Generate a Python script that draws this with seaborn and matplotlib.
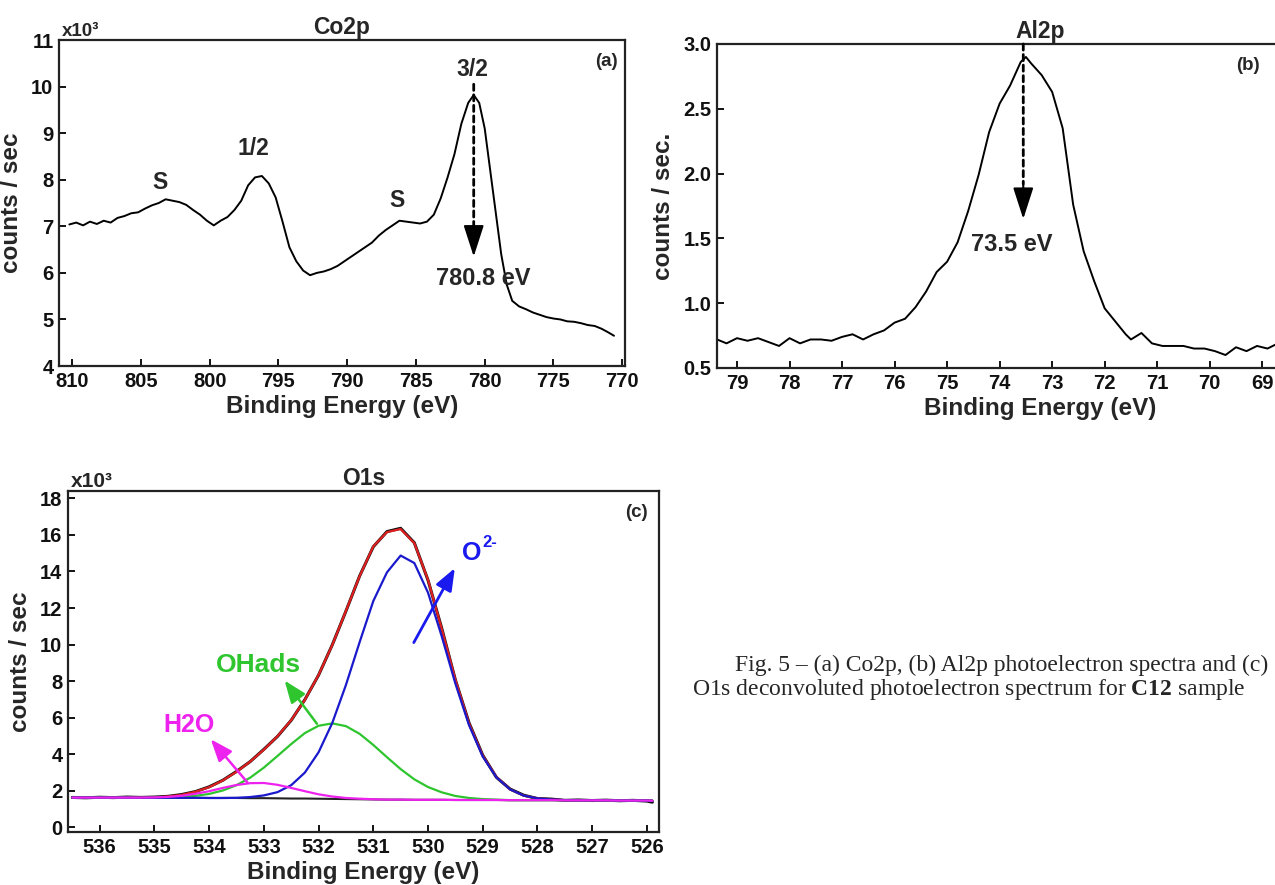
import numpy as np
import pandas as pd
import matplotlib
matplotlib.use("Agg")
import matplotlib.pyplot as plt
import seaborn as sns

# ---------------- data ----------------
co_energy = [810.2, 809.7, 809.2, 808.7, 808.2, 807.7, 807.2, 806.7, 806.2, 805.7,
             805.2, 804.7, 804.2, 803.7, 803.2, 802.7, 802.2, 801.7, 801.2, 800.7,
             800.2, 799.7, 799.2, 798.7, 798.2, 797.7, 797.2, 796.7, 796.2, 795.7,
             795.2, 794.7, 794.2, 793.7, 793.2, 792.7, 792.2, 791.7, 791.2, 790.7,
             790.2, 789.7, 789.2, 788.7, 788.2, 787.7, 787.2, 786.7, 786.2, 785.7,
             785.2, 784.7, 784.2, 783.7, 783.2, 782.7, 782.2, 781.7, 781.2, 780.8,
             780.4, 780.0, 779.6, 779.2, 778.8, 778.4, 778.0, 777.5, 777.0, 776.5,
             776.0, 775.5, 775.0, 774.5, 774.0, 773.5, 773.0, 772.5, 772.0, 771.5,
             771.0, 770.6]
co_counts = [7.04, 7.08, 7.02, 7.10, 7.05, 7.12, 7.08, 7.18, 7.22, 7.28,
             7.30, 7.38, 7.45, 7.50, 7.58, 7.55, 7.52, 7.46, 7.35, 7.25,
             7.12, 7.02, 7.12, 7.20, 7.35, 7.55, 7.88, 8.05, 8.08, 7.92,
             7.62, 7.10, 6.55, 6.25, 6.05, 5.95, 6.00, 6.03, 6.08, 6.15,
             6.25, 6.35, 6.45, 6.55, 6.65, 6.80, 6.92, 7.02, 7.12, 7.10,
             7.08, 7.06, 7.10, 7.25, 7.60, 8.05, 8.55, 9.20, 9.65, 9.82,
             9.65, 9.10, 8.20, 7.30, 6.40, 5.75, 5.40, 5.28, 5.22, 5.15,
             5.10, 5.05, 5.02, 5.00, 4.96, 4.95, 4.92, 4.88, 4.86, 4.80,
             4.72, 4.65]

al_energy = [79.38, 79.2, 79.0, 78.8, 78.6, 78.4, 78.2, 78.0, 77.8, 77.6,
             77.4, 77.2, 77.0, 76.8, 76.6, 76.4, 76.2, 76.0, 75.8, 75.6,
             75.4, 75.2, 75.0, 74.8, 74.6, 74.4, 74.2, 74.0, 73.8, 73.6,
             73.5, 73.4, 73.2, 73.0, 72.8, 72.6, 72.4, 72.2, 72.0, 71.8,
             71.6, 71.5, 71.3, 71.1, 70.9, 70.7, 70.5, 70.3, 70.1, 69.9,
             69.7, 69.5, 69.3, 69.1, 68.9, 68.7, 68.5]
al_counts = [0.72, 0.69, 0.73, 0.71, 0.73, 0.70, 0.67, 0.73, 0.69, 0.72,
             0.72, 0.71, 0.74, 0.76, 0.72, 0.76, 0.79, 0.85, 0.88, 0.97,
             1.09, 1.24, 1.32, 1.47, 1.71, 1.99, 2.32, 2.54, 2.68, 2.86,
             2.90, 2.85, 2.76, 2.63, 2.35, 1.76, 1.40, 1.17, 0.96, 0.86,
             0.76, 0.72, 0.77, 0.69, 0.67, 0.67, 0.67, 0.65, 0.65, 0.63,
             0.60, 0.66, 0.63, 0.67, 0.65, 0.69, 0.66]

o_energy = [536.5, 536.25, 536.0, 535.75, 535.5, 535.25, 535.0, 534.75, 534.5, 534.25,
            534.0, 533.75, 533.5, 533.25, 533.0, 532.75, 532.5, 532.25, 532.0, 531.75,
            531.5, 531.25, 531.0, 530.75, 530.5, 530.25, 530.0, 529.75, 529.5, 529.25,
            529.0, 528.75, 528.5, 528.25, 528.0, 527.75, 527.5, 527.25, 527.0, 526.75,
            526.5, 526.25, 526.0, 525.9]
o_raw = [1.64, 1.62, 1.65, 1.63, 1.66, 1.64, 1.66, 1.70, 1.80, 1.96,
         2.22, 2.58, 3.06, 3.60, 4.27, 4.98, 5.86, 6.99, 8.33, 9.98,
         11.83, 13.75, 15.35, 16.18, 16.36, 15.57, 13.52, 10.90, 8.07, 5.72,
         3.95, 2.74, 2.10, 1.76, 1.58, 1.55, 1.48, 1.50, 1.47, 1.49,
         1.46, 1.48, 1.44, 1.38]
o_fit = [1.63, 1.63, 1.63, 1.64, 1.64, 1.63, 1.64, 1.69, 1.78, 1.95,
         2.20, 2.57, 3.04, 3.60, 4.25, 4.99, 5.87, 6.98, 8.34, 9.97,
         11.84, 13.74, 15.37, 16.15, 16.32, 15.55, 13.54, 10.87, 8.09, 5.70,
         3.93, 2.76, 2.08, 1.74, 1.59, 1.53, 1.49, 1.48, 1.48, 1.48,
         1.47, 1.47, 1.47, 1.46]
o_oxide = [1.63, 1.63, 1.63, 1.63, 1.63, 1.62, 1.62, 1.62, 1.62, 1.62,
           1.61, 1.61, 1.62, 1.66, 1.75, 1.93, 2.31, 3.00, 4.11, 5.71,
           7.79, 10.13, 12.38, 13.95, 14.87, 14.46, 12.84, 10.46, 7.87, 5.59,
           3.88, 2.74, 2.08, 1.74, 1.59, 1.53, 1.49, 1.48, 1.48, 1.48,
           1.47, 1.47, 1.47, 1.46]
o_hydroxyl = [1.63, 1.63, 1.63, 1.63, 1.63, 1.62, 1.62, 1.64, 1.67, 1.73,
              1.83, 2.02, 2.31, 2.72, 3.27, 3.91, 4.56, 5.16, 5.56, 5.69,
              5.54, 5.12, 4.51, 3.84, 3.19, 2.63, 2.21, 1.92, 1.72, 1.61,
              1.55, 1.52, 1.49, 1.49, 1.49, 1.49, 1.48, 1.48, 1.48, 1.48,
              1.47, 1.47, 1.47, 1.46]
o_water = [1.63, 1.63, 1.63, 1.63, 1.63, 1.63, 1.64, 1.67, 1.73, 1.84,
           1.98, 2.16, 2.32, 2.42, 2.43, 2.33, 2.16, 1.98, 1.81, 1.69,
           1.61, 1.57, 1.54, 1.52, 1.52, 1.51, 1.51, 1.51, 1.50, 1.50,
           1.50, 1.50, 1.49, 1.49, 1.49, 1.49, 1.48, 1.48, 1.48, 1.48,
           1.47, 1.47, 1.47, 1.46]
o_background = [1.63, 1.63, 1.63, 1.63, 1.63, 1.62, 1.62, 1.62, 1.62, 1.62,
                1.61, 1.61, 1.61, 1.60, 1.60, 1.59, 1.58, 1.58, 1.57, 1.56,
                1.55, 1.54, 1.53, 1.52, 1.52, 1.51, 1.51, 1.51, 1.50, 1.50,
                1.50, 1.50, 1.49, 1.49, 1.49, 1.49, 1.48, 1.48, 1.48, 1.48,
                1.47, 1.47, 1.47, 1.46]

co_peak = 780.8
al_peak = 73.55

# ---------------- style ----------------
sns.set_style("ticks")
plt.rcParams["font.family"] = ["Liberation Sans", "DejaVu Sans"]
plt.rcParams["font.weight"] = "bold"
plt.rcParams["axes.labelweight"] = "bold"
plt.rcParams["axes.titleweight"] = "bold"
plt.rcParams["mathtext.fontset"] = "custom"
plt.rcParams["mathtext.rm"] = "Liberation Serif"
plt.rcParams["mathtext.bf"] = "Liberation Serif:bold"

fig = plt.figure(figsize=(12.75, 8.85), dpi=100)
axA = fig.add_axes([0.0463, 0.5864, 0.4439, 0.3684])
axB = fig.add_axes([0.5624, 0.5842, 0.5067, 0.3661])
axC = fig.add_axes([0.0533, 0.0599, 0.4635, 0.3853])


def style_axis(ax):
    for s in ax.spines.values():
        s.set_linewidth(1.6)
        s.set_color("#222222")
    ax.tick_params(direction="in", length=5, width=1.4, labelsize=14.5,
                   top=False, right=False, pad=4, colors="#111111")
    ax.xaxis.label.set_size(17.5)
    ax.yaxis.label.set_size(17.5)


def dotted_arrow(ax, x, y_start, y_base, y_tip):
    ax.annotate("", xy=(x, y_base), xytext=(x, y_start),
                arrowprops=dict(arrowstyle="-", linestyle=(0, (2.2, 1.6)), lw=2.0,
                                color="black", shrinkA=0, shrinkB=0))
    ax.annotate("", xy=(x, y_tip), xytext=(x, y_base),
                arrowprops=dict(arrowstyle="-|>,head_length=1.3,head_width=0.42",
                                lw=1.5, color="black", mutation_scale=15,
                                shrinkA=0, shrinkB=0))


# ---------------- (a) Co2p ----------------
dfA = pd.DataFrame({"E": co_energy, "I": co_counts})
sns.lineplot(data=dfA, x="E", y="I", ax=axA, color="black", lw=1.4,
             sort=False, estimator=None)
axA.set_xlim(810.95, 769.8)
axA.set_ylim(4, 11)
axA.set_xticks(np.arange(810, 769, -5))
axA.set_yticks(np.arange(4, 12, 1))
axA.set_xlabel("Binding Energy (eV)", labelpad=3)
axA.set_ylabel("counts / sec", labelpad=6)
axA.set_title("Co2p", fontsize=16.5, pad=4)
style_axis(axA)
axA.text(0.005, 1.0, "x10³", transform=axA.transAxes, ha="left", va="bottom", fontsize=13.5)
axA.text(0.968, 0.935, "(a)", transform=axA.transAxes, ha="center", va="center", fontsize=13.5)
axA.text(803.6, 7.93, "S", ha="center", va="center", fontsize=16.5)
axA.text(796.8, 8.68, "1/2", ha="center", va="center", fontsize=16.5)
axA.text(786.4, 7.56, "S", ha="center", va="center", fontsize=16.5)
axA.text(780.9, 10.36, "3/2", ha="center", va="center", fontsize=16.5)
axA.text(780.1, 5.89, "780.8 eV", ha="center", va="center", fontsize=17)
dotted_arrow(axA, co_peak, 10.05, 6.95, 6.35)

# ---------------- (b) Al2p ----------------
dfB = pd.DataFrame({"E": al_energy, "I": al_counts})
sns.lineplot(data=dfB, x="E", y="I", ax=axB, color="black", lw=1.4,
             sort=False, estimator=None)
axB.set_xlim(79.38, 67.08)
axB.set_ylim(0.5, 3.0)
axB.set_xticks(np.arange(79, 68, -1))
axB.set_yticks(np.arange(0.5, 3.01, 0.5))
axB.set_yticklabels([f"{v:.1f}" for v in np.arange(0.5, 3.01, 0.5)])
axB.set_xlabel("Binding Energy (eV)", labelpad=3)
axB.set_ylabel("counts / sec.", labelpad=6)
axB.set_title("Al2p", fontsize=16.5, pad=4)
style_axis(axB)
axB.text(1248, 1.0 - 65 / 885, "(b)", transform=matplotlib.transforms.blended_transform_factory(
    matplotlib.transforms.IdentityTransform(), fig.transFigure),
    ha="center", va="center", fontsize=13.5)
axB.text(73.76, 1.45, "73.5 eV", ha="center", va="center", fontsize=17)
dotted_arrow(axB, al_peak, 3.0, 1.92, 1.65)

# ---------------- (c) O1s ----------------
dfC = pd.DataFrame({"E": o_energy, "raw": o_raw, "fit": o_fit, "O2-": o_oxide,
                    "OHads": o_hydroxyl, "H2O": o_water, "bg": o_background})
sns.lineplot(data=dfC, x="E", y="bg", ax=axC, color="#222222", lw=1.5, sort=False, estimator=None)
sns.lineplot(data=dfC, x="E", y="raw", ax=axC, color="#111111", lw=2.2, sort=False, estimator=None)
sns.lineplot(data=dfC, x="E", y="fit", ax=axC, color="#e02020", lw=1.6, sort=False, estimator=None)
sns.lineplot(data=dfC, x="E", y="OHads", ax=axC, color="#2ec52e", lw=1.6, sort=False, estimator=None)
sns.lineplot(data=dfC, x="E", y="O2-", ax=axC, color="#1a1acc", lw=1.6, sort=False, estimator=None)
sns.lineplot(data=dfC, x="E", y="H2O", ax=axC, color="#ee22ee", lw=1.6, sort=False, estimator=None)
axC.set_xlim(536.58, 525.78)
axC.set_ylim(-0.25, 18.4)
axC.set_xticks(np.arange(536, 525, -1))
axC.set_yticks(np.arange(0, 19, 2))
axC.set_xlabel("Binding Energy (eV)", labelpad=3)
axC.set_ylabel("counts / sec", labelpad=6)
axC.set_title("O1s", fontsize=16.5, pad=4)
style_axis(axC)
axC.text(0.005, 1.0, "x10³", transform=axC.transAxes, ha="left", va="bottom", fontsize=15)
axC.text(526.2, 17.2, "(c)", ha="center", va="center", fontsize=13.5)

axC.annotate("", xy=(529.51, 14.18), xytext=(530.26, 10.11),
             arrowprops=dict(arrowstyle="-|>,head_length=0.9,head_width=0.35",
                             lw=2.0, color="#1a1aee", mutation_scale=15,
                             shrinkA=0, shrinkB=0))
axC.text(529.2, 15.0, "O", ha="center", va="center", fontsize=18, color="#1a1aee")
axC.annotate("2-", xy=(529.2, 15.0), xytext=(7.5, 2), textcoords="offset points",
             ha="left", va="bottom", fontsize=12, color="#1a1aee")

axC.annotate("", xy=(532.62, 8.03), xytext=(532.03, 5.67),
             arrowprops=dict(arrowstyle="-|>,head_length=0.9,head_width=0.35",
                             lw=1.8, color="#2ec52e", mutation_scale=15,
                             shrinkA=0, shrinkB=0))
axC.text(533.1, 8.9, "OHads", ha="center", va="center", fontsize=19, color="#2ec52e")

axC.annotate("", xy=(533.97, 4.82), xytext=(533.3, 2.46),
             arrowprops=dict(arrowstyle="-|>,head_length=0.9,head_width=0.35",
                             lw=1.8, color="#ee22ee", mutation_scale=15,
                             shrinkA=0, shrinkB=0))
axC.text(534.36, 5.6, "H2O", ha="center", va="center", fontsize=18, color="#ee22ee")

# ---------------- caption ----------------
fig.text(735 / 1275, 1 - 665 / 885, "Fig. 5 – (a) Co2p, (b) Al2p photoelectron spectra and (c)",
         ha="left", va="center", family="Liberation Serif", weight="normal", fontsize=17)
fig.text(692 / 1275, 1 - 690 / 885,
         r"O1s deconvoluted photoelectron spectrum for $\mathbf{C12}$ sample",
         ha="left", va="center", family="Liberation Serif", weight="normal", fontsize=17)

fig.savefig("out.png", dpi=100)
